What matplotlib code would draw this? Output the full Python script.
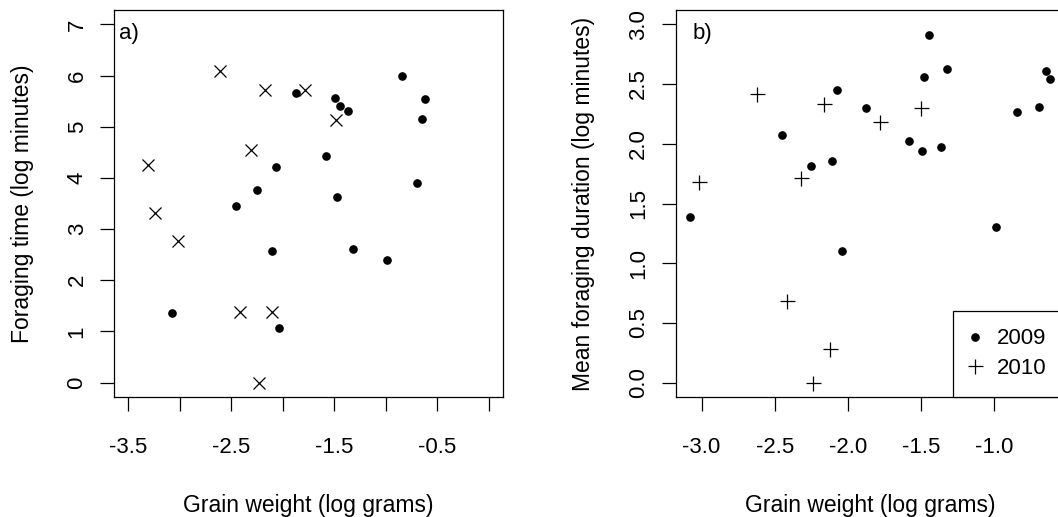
import matplotlib
matplotlib.use("Agg")
import matplotlib.pyplot as plt
from matplotlib.lines import Line2D
import numpy as np

plt.rcParams['font.family'] = ['Liberation Sans', 'DejaVu Sans']
plt.rcParams['axes.unicode_minus'] = False

# 2009 grains: weight (log g), foraging time (a) and mean duration (b)
w2009 = [-3.08, -2.45, -2.25, -2.105, -2.07, -2.04, -1.875, -1.58, -1.49,
         -1.477, -1.446, -1.365, -1.318, -0.987, -0.844, -0.692, -0.645, -0.615]
time2009 = [1.36, 3.46, 3.76, 2.57, 4.22, 1.06, 5.66, 4.42, 5.57,
            3.63, 5.40, 5.31, 2.62, 2.39, 6.00, 3.90, 5.15, 5.54]
dur2009 = [1.385, 2.07, 1.81, 1.86, 2.45, 1.10, 2.30, 2.02, 1.94,
           2.56, 2.91, 1.97, 2.63, 1.30, 2.27, 2.31, 2.61, 2.54]

# 2010 grains
w2010a = [-3.305, -3.241, -3.018, -2.614, -2.413, -2.313, -2.232, -2.168, -2.106, -1.785, -1.482]
time2010 = [4.25, 3.32, 2.77, 6.09, 1.39, 4.54, 0.0, 5.71, 1.39, 5.71, 5.13]
w2010b = [-3.021, -2.618, -2.417, -2.318, -2.237, -2.163, -2.118, -1.776, -1.499]
dur2010 = [1.68, 2.42, 0.68, 1.71, 0.0, 2.33, 0.28, 2.18, 2.30]

xticks_a = [-3.5, -3.0, -2.5, -2.0, -1.5, -1.0, -0.5, 0.0]
xlabels_a = ['-3.5', '', '-2.5', '', '-1.5', '', '-0.5', '']
yticks_a = [0, 1, 2, 3, 4, 5, 6, 7]
xticks_b = [-3.0, -2.5, -2.0, -1.5, -1.0]
yticks_b = [0.0, 0.5, 1.0, 1.5, 2.0, 2.5, 3.0]

FS = 16


def rlim(lo, hi):
    # R style 4% extension
    d = 0.04 * (hi - lo)
    return lo - d, hi + d


def style(ax):
    for s in ax.spines.values():
        s.set_linewidth(0.9)
    ax.tick_params(direction='out', length=10, width=0.9, labelsize=FS)
    ax.tick_params(axis='x', pad=19)
    ax.tick_params(axis='y', pad=9)
    for lab in ax.get_yticklabels():
        lab.set_rotation(90)
        lab.set_va('center')


fig = plt.figure(figsize=(10.58, 5.17), dpi=100)
axa = fig.add_axes([114 / 1058, 1 - 397 / 517, 389 / 1058, 387 / 517])
axb = fig.add_axes([675.5 / 1058, 1 - 397 / 517, 389 / 1058, 387 / 517])

# panel a
axa.plot(w2009, time2009, 'o', color='black', ms=5.2, ls='none')
axa.plot(w2010a, time2010, 'x', color='black', ms=8.6, mew=0.9, ls='none')
axa.set_xlim(rlim(-3.5, 0))
axa.set_ylim(rlim(0, 7))
axa.set_xticks(xticks_a)
axa.set_xticklabels(xlabels_a)
axa.set_yticks(yticks_a)
axa.set_yticklabels([str(v) for v in yticks_a])
style(axa)
axa.set_xlabel('Grain weight (log grams)', fontsize=16.5, va='baseline')
axa.xaxis.set_label_coords(0.5, -(512 - 397) / 387)
axa.set_ylabel('Foraging time (log minutes)', fontsize=16.5, va='baseline')
axa.yaxis.set_label_coords((29 - 114) / 389, 0.5)
axa.text(0.013, 0.94, 'a)', transform=axa.transAxes, fontsize=FS, va='center', ha='left')

# panel b
axb.plot(w2009, dur2009, 'o', color='black', ms=5.2, ls='none')
axb.plot(w2010b, dur2010, '+', color='black', ms=10.8, mew=0.9, ls='none')
allx = w2009 + w2010b
axb.set_xlim(rlim(min(allx), max(allx)))
axb.set_ylim(rlim(0, 3))
axb.set_xticks(xticks_b)
axb.set_xticklabels(['%.1f' % v for v in xticks_b])
axb.set_yticks(yticks_b)
axb.set_yticklabels(['%.1f' % v for v in yticks_b])
style(axb)
axb.set_xlabel('Grain weight (log grams)', fontsize=16.5, va='baseline')
axb.xaxis.set_label_coords(0.5, -(512 - 397) / 387)
axb.set_ylabel('Mean foraging duration (log minutes)', fontsize=16.5, va='baseline')
axb.yaxis.set_label_coords((590 - 675.5) / 389, 0.5)
axb.text(0.044, 0.94, 'b)', transform=axb.transAxes, fontsize=FS, va='center', ha='left')

handles = [Line2D([], [], marker='o', color='black', ls='none', ms=5.2),
           Line2D([], [], marker='+', color='black', ls='none', ms=10.8, mew=0.9)]
leg = axb.legend(handles, ['2009', '2010'], loc='lower right', bbox_to_anchor=(1, 0),
                 borderaxespad=0, fontsize=FS, frameon=True, fancybox=False,
                 framealpha=1, edgecolor='black', borderpad=0.8, handlelength=0.4,
                 handletextpad=0.8, labelspacing=0.4)
leg.get_frame().set_linewidth(0.9)

fig.savefig('out.png', dpi=100)
